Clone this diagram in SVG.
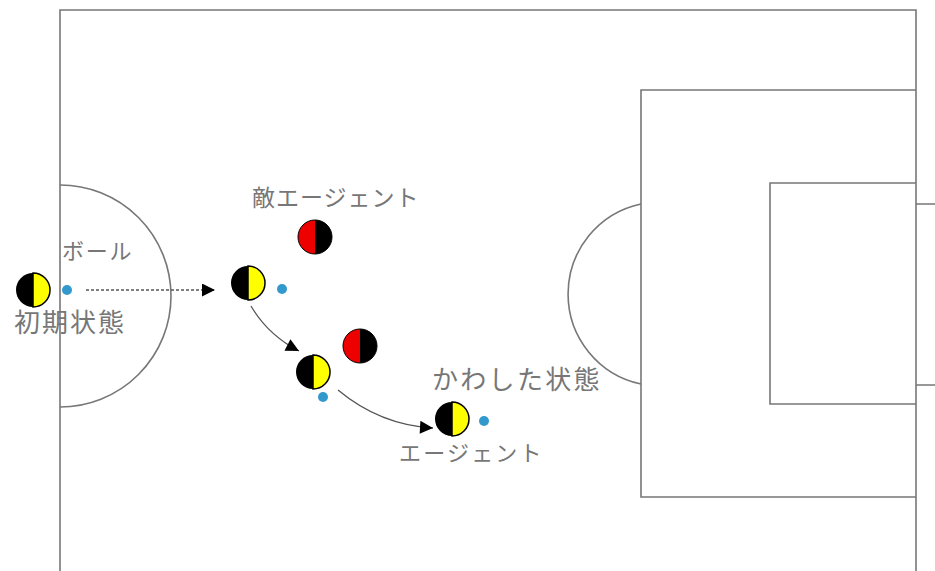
<svg xmlns="http://www.w3.org/2000/svg" width="935" height="571" viewBox="0 0 935 571">
<defs>
<style>
.line{fill:none;stroke:#777;stroke-width:1.6}
.conn{fill:none;stroke:#555;stroke-width:1.3}
.lbl{font-family:"Noto Sans CJK JP","Noto Sans CJK SC",sans-serif;fill:#777}
.ball{fill:#3399cc}
</style>
<marker id="ah" viewBox="0 0 10 10" refX="10" refY="5" markerWidth="26" markerHeight="13" markerUnits="userSpaceOnUse" orient="auto">
<path d="M0,0 L10,5 L0,10 Z" fill="#000"/>
</marker>
<g id="agent">
<path d="M0,-17 A17,17 0 0 0 0,17 Z" fill="#000"/>
<path d="M0,-17 A17,17 0 0 1 0,17 Z" fill="#ffff00" stroke="#000" stroke-width="1.5"/>
</g>
<g id="enemy">
<path d="M0,-17 A17,17 0 0 0 0,17 Z" fill="#ee0000"/>
<path d="M0,-17 A17,17 0 0 1 0,17 Z" fill="#000"/>
<circle r="17" fill="none" stroke="#000" stroke-width="1"/>
</g>
</defs>
<rect width="935" height="571" fill="#fff"/>
<g id="field">
<path class="line" d="M60,571 V10 H916 V571"/>
<path class="line" d="M60,185 A111,111 0 0 1 60,407"/>
<path class="line" d="M916,90 H641 V497 H916"/>
<path class="line" d="M916,183 H770 V404 H916"/>
<path class="line" d="M641,204 A92,92 0 0 0 641,384"/>
<path class="line" d="M916,204 H935 M916,385 H935"/>
</g>
<g id="connectors">
<path class="conn" d="M86,290 H215" stroke-dasharray="3,2" marker-end="url(#ah)"/>
<path class="conn" d="M251,306 Q268,335 299,351" marker-end="url(#ah)"/>
<path class="conn" d="M338,390 Q380,425 433,428" marker-end="url(#ah)"/>
</g>
<g id="p1"><use href="#agent" x="33" y="290"/><circle class="ball" cx="67" cy="290" r="5"/></g>
<g id="p2"><use href="#agent" x="248" y="283"/><circle class="ball" cx="282" cy="289" r="5"/></g>
<g id="p3"><use href="#agent" x="313" y="372"/><circle class="ball" cx="323" cy="397" r="5"/></g>
<g id="p4"><use href="#agent" x="452" y="419"/><circle class="ball" cx="484" cy="421" r="5"/></g>
<g id="e1"><use href="#enemy" x="315" y="237"/></g>
<g id="e2"><use href="#enemy" x="360" y="346"/></g>
<g id="labels">
<text class="lbl" x="62" y="259" font-size="22" letter-spacing="1.8">ボール</text>
<text class="lbl" x="14" y="332" font-size="26" letter-spacing="2">初期状態</text>
<text class="lbl" x="252" y="206" font-size="23" letter-spacing="1">敵エージェント</text>
<text class="lbl" x="432" y="389" font-size="26" letter-spacing="2.3">かわした状態</text>
<text class="lbl" x="399" y="461" font-size="22" letter-spacing="2.2">エージェント</text>
</g>
</svg>
